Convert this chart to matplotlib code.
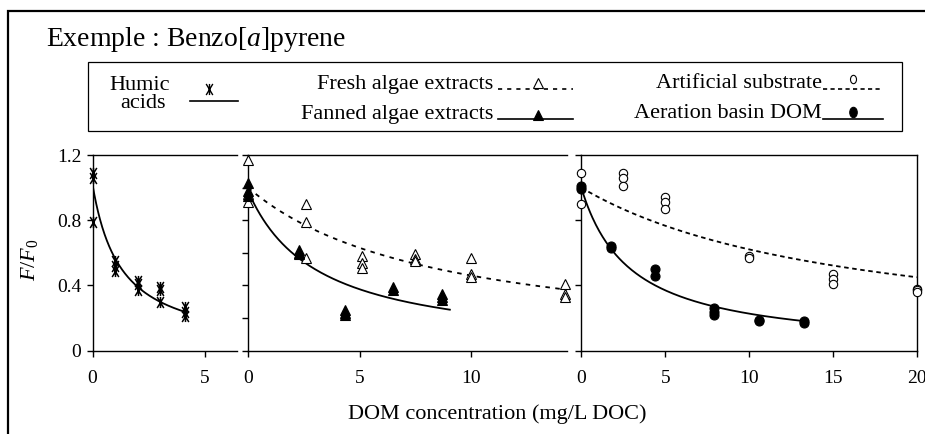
import numpy as np
import matplotlib
matplotlib.use("Agg")
import matplotlib.pyplot as plt
from matplotlib.path import Path
from matplotlib.lines import Line2D
from matplotlib.patches import Rectangle

plt.rcParams["font.family"] = ["Liberation Serif", "DejaVu Serif"]
plt.rcParams["mathtext.fontset"] = "custom"
plt.rcParams["mathtext.rm"] = "Liberation Serif"
plt.rcParams["mathtext.it"] = "Liberation Serif:italic"

# ---------------- data (F/F0 vs DOM concentration, mg/L DOC) ----------------
humic_x = [0, 0, 0, 1, 1, 1, 2, 2, 2, 3, 3, 3, 4.1, 4.1, 4.1]
humic_y = [1.09, 1.06, 0.79, 0.55, 0.52, 0.49, 0.43, 0.41, 0.37, 0.39, 0.37, 0.30, 0.27, 0.24, 0.21]

fresh_x = [0, 0, 0, 2.6, 2.6, 2.6, 5.1, 5.1, 5.1, 7.5, 7.5, 7.5, 10, 10, 10, 14.2, 14.2, 14.2]
fresh_y = [1.17, 0.96, 0.91, 0.90, 0.79, 0.57, 0.58, 0.54, 0.51, 0.59, 0.56, 0.55,
           0.57, 0.47, 0.45, 0.41, 0.35, 0.33]

fanned_x = [0, 0, 0, 2.3, 2.3, 2.3, 4.35, 4.35, 4.35, 6.5, 6.5, 8.7, 8.7, 8.7]
fanned_y = [1.03, 0.98, 0.95, 0.62, 0.60, 0.59, 0.25, 0.23, 0.22, 0.39, 0.37, 0.35, 0.33, 0.31]

artif_x = [0, 0, 0, 2.5, 2.5, 2.5, 5, 5, 5, 10, 10, 15, 15, 15, 20, 20, 20]
artif_y = [1.09, 1.00, 0.90, 1.09, 1.06, 1.01, 0.94, 0.91, 0.87, 0.58, 0.57,
           0.47, 0.44, 0.41, 0.38, 0.37, 0.36]

aer_x = [0, 0, 1.75, 1.75, 4.4, 4.4, 7.9, 7.9, 7.9, 10.6, 10.6, 13.25, 13.25]
aer_y = [1.01, 0.99, 0.64, 0.63, 0.50, 0.46, 0.26, 0.24, 0.22, 0.19, 0.18, 0.18, 0.17]

# Stern-Volmer fits  F/F0 = a / (1 + K*C), drawn over [0, C_end]
humic_fit = (1.02, 0.80, 4.1)
fresh_fit = (1.00, 0.117, 14.3)
fanned_fit = (0.98, 0.32, 9.05)
artif_fit = (1.00, 0.061, 20.0)
aer_fit = (1.00, 0.34, 13.3)

y_ticks_sparse = [0, 0.4, 0.8, 1.2]
y_ticks_dense = [0, 0.2, 0.4, 0.6, 0.8, 1.0, 1.2]
y_ticklabels = ["0", "0.4", "0.8", "1.2"]

# ---------------- marker shapes ----------------
asterisk = Path([(-0.6, -1), (0.6, 1), (0.6, -1), (-0.6, 1), (0, -1), (0, 1)],
                [Path.MOVETO, Path.LINETO, Path.MOVETO, Path.LINETO, Path.MOVETO, Path.LINETO])
_c = Path.unit_circle()
ellipse = Path(_c.vertices * np.array([0.72, 1.0]), _c.codes)


def sv_curve(ax, fit, **kw):
    a, k, xend = fit
    xs = np.linspace(0, xend, 200)
    ax.plot(xs, a / (1 + k * xs), color="black", lw=1.3, **kw)


W, H = 925, 434
fig = plt.figure(figsize=(W / 100, H / 100), dpi=100)


def ax_at(left, right, top=155, bottom=350.7):
    return fig.add_axes([left / W, (H - bottom) / H, (right - left) / W, (bottom - top) / H])


ax1 = ax_at(92.5, 237)
ax2 = ax_at(248, 566.5)
ax3 = ax_at(581.3, 917)

for ax in (ax1, ax2, ax3):
    ax.set_ylim(0, 1.2)
    ax.spines["right"].set_visible(False)
    for s in ax.spines.values():
        s.set_linewidth(1.0)
    ax.tick_params(direction="out", length=4, width=1.0, labelsize=14,
                   colors="black")
    ax.tick_params(axis="x", pad=10)
    ax.tick_params(axis="y", pad=4)
ax3.spines["right"].set_visible(True)

ax1.set_xlim(0, 6.42)
ax1.set_xticks([0, 5])
ax1.set_yticks(y_ticks_sparse)
ax1.set_yticklabels(y_ticklabels)

ax2.set_xlim(0, 14.28)
ax2.set_xticks([0, 5, 10])
ax2.set_yticks(y_ticks_dense)
ax2.set_yticklabels([])

ax3.set_xlim(0, 20)
ax3.set_xticks([0, 5, 10, 15, 20])
ax3.set_yticks(y_ticks_sparse)
ax3.set_yticklabels([])

# panel 1: humic acids
sv_curve(ax1, humic_fit)
ax1.plot(humic_x, humic_y, ls="none", marker=asterisk, ms=8, mec="black",
         mfc="none", mew=1.1, clip_on=False, zorder=3)

# panel 2: algae extracts
sv_curve(ax2, fresh_fit, ls=(0, (2.5, 3)))
sv_curve(ax2, fanned_fit)
ax2.plot(fresh_x, fresh_y, ls="none", marker="^", ms=7, mec="black",
         mfc="white", mew=0.8, clip_on=False, zorder=3)
ax2.plot(fanned_x, fanned_y, ls="none", marker="^", ms=7, mec="black",
         mfc="black", mew=0.8, clip_on=False, zorder=4)

# panel 3: artificial substrate and aeration basin DOM
sv_curve(ax3, artif_fit, ls=(0, (2.5, 2)))
sv_curve(ax3, aer_fit)
ax3.plot(artif_x, artif_y, ls="none", marker="o", ms=6, mec="black",
         mfc="white", mew=0.8, clip_on=False, zorder=3)
ax3.plot(aer_x, aer_y, ls="none", marker="o", ms=6.5, mec="black",
         mfc="black", mew=0.8, clip_on=False, zorder=4)

# axis titles
fig.text(29 / W, 1 - 260 / H, "$F/F_{\\mathit{0}}$", rotation=90, ha="center",
         va="center", fontsize=16)
fig.text(497 / W, 1 - 414 / H, "DOM concentration (mg/L DOC)", ha="center",
         va="center", fontsize=16)

# outer frame and heading
fig.patches.append(Rectangle((8 / W, -0.2), 1.2, (H - 11.5) / H + 0.2,
                             transform=fig.transFigure, fill=False,
                             edgecolor="black", lw=1.6))
fig.text(46 / W, 1 - 46 / H, "Exemple : Benzo[$\\mathit{a}$]pyrene",
         ha="left", va="baseline", fontsize=20)

# legend panel
fig.patches.append(Rectangle((87.5 / W, 1 - 131 / H), (902 - 87.5) / W, (131 - 62) / H,
                             transform=fig.transFigure, fill=False,
                             edgecolor="black", lw=0.9))


def fx(px):
    return px / W


def fy(py):
    return 1 - py / H


def leg_line(x0, x1, y, **kw):
    fig.add_artist(Line2D([fx(x0), fx(x1)], [fy(y), fy(y)], color="black",
                          lw=1.2, transform=fig.transFigure, **kw))


def leg_marker(x, y, **kw):
    fig.add_artist(Line2D([fx(x)], [fy(y)], ls="none", color="black",
                          transform=fig.transFigure, **kw))


row1, row2 = 84, 114
fig.text(fx(140), fy(86), "Humic", ha="center", va="center", fontsize=16)
fig.text(fx(143), fy(104), "acids", ha="center", va="center", fontsize=16)
leg_line(190, 238, 101)
leg_marker(209, 89, marker=asterisk, ms=8, mec="black", mfc="none", mew=1.0)

fig.text(fx(493), fy(row1), "Fresh algae extracts", ha="right", va="center", fontsize=16)
leg_line(498, 573, row1 + 5, ls=(0, (2.5, 3)))
leg_marker(538, row1 - 1, marker="^", ms=7, mec="black", mfc="white", mew=0.8)

fig.text(fx(493), fy(row2), "Fanned algae extracts", ha="right", va="center", fontsize=16)
leg_line(498, 573, row2 + 5)
leg_marker(538, row2 + 1, marker="^", ms=7, mec="black", mfc="black", mew=0.8)

fig.text(fx(822), fy(row1), "Artificial substrate", ha="right", va="center", fontsize=16)
leg_line(823, 883, row1 + 5, ls=(0, (2.5, 2)))
leg_marker(853, row1 - 5, marker=ellipse, ms=6, mec="black", mfc="white", mew=0.8)

fig.text(fx(822), fy(row2), "Aeration basin DOM", ha="right", va="center", fontsize=16)
leg_line(823, 883, row2 + 5)
leg_marker(853, row2 - 2, marker=ellipse, ms=7.5, mec="black", mfc="black", mew=0.8)

fig.savefig("out.png", dpi=100)
